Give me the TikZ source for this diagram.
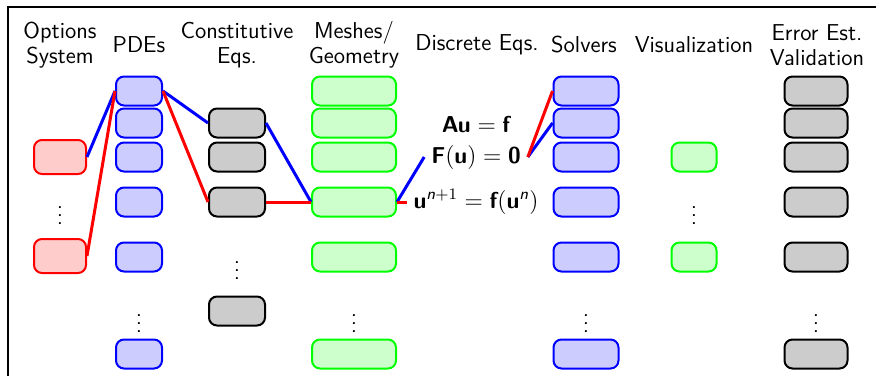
\documentclass[tikz,border=0pt]{standalone}
\usepackage{amsmath}
\usepackage{amssymb}
\usepackage{tikz}
\usepackage{xcolor}

\newcommand{\bsf}[1]{\textsf{\bfseries #1}}

\tikzset{
    cell/.style={rounded corners=4pt, line width=1pt, minimum height=14.5pt, inner sep=0pt},
    bluecell/.style={cell, draw=blue, fill=blue!20},
    redcell/.style={cell, draw=red, fill=red!20, minimum height=17pt, minimum width=26pt},
    greencell/.style={cell, draw=green, fill=green!20},
    graycell/.style={cell, draw=black, fill=gray!40},
    bluelink/.style={draw=blue, line width=1.5pt},
    redlink/.style={draw=red, line width=1.5pt},
    header/.style={align=center},
    dots/.style={inner sep=0pt}
}

\begin{document}
\begin{tikzpicture}[x=0.5pt, y=-0.5pt, every node/.style={font=\sffamily\fontsize{11.5}{12.5}\selectfont}]
        \useasboundingbox (0,0) rectangle (876,376);
        \draw[line width=0.8pt] (8,376) -- (8,7) -- (876,7);

        % headers
        \node[header] (hopt) at (60,45) {Options\\System};
        \node[header] (hpde) at (139,45) {PDEs};
        \node[header] (hcon) at (237,45) {Constitutive\\Eqs.};
        \node[header] (hmsh) at (354,45) {Meshes/\\Geometry};
        \node[header] (hdis) at (477,45) {Discrete Eqs.};
        \node[header] (hsol) at (584,45) {Solvers};
        \node[header] (hvis) at (694,45) {Visualization};
        \node[header] (herr) at (817,45) {Error Est.\\Validation};

        % options
        \node[redcell] (opt1) at (60,157) {};
        \node[dots] (optdots) at (60,210) {$\vdots$};
        \node[redcell] (opt2) at (60,256) {};

        % PDEs
        \node[bluecell, minimum width=23pt] (pde1) at (139,91) {};
        \node[bluecell, minimum width=23pt] (pde2) at (139,123) {};
        \node[bluecell, minimum width=23pt] (pde3) at (139,157) {};
        \node[bluecell, minimum width=23pt] (pde4) at (139,202) {};
        \node[bluecell, minimum width=23pt] (pde5) at (139,257) {};
        \node[dots] (pdedots) at (139,318) {$\vdots$};
        \node[bluecell, minimum width=23pt] (pde6) at (139,354) {};

        % constitutive eqs
        \node[graycell, minimum width=28pt] (con1) at (237,123) {};
        \node[graycell, minimum width=28pt] (con2) at (237,157) {};
        \node[graycell, minimum width=28pt] (con3) at (237,202) {};
        \node[dots] (condots) at (237,265) {$\vdots$};
        \node[graycell, minimum width=28pt] (con4) at (237,311) {};

        % meshes
        \node[greencell, minimum width=42pt] (msh1) at (354,91) {};
        \node[greencell, minimum width=42pt] (msh2) at (354,123) {};
        \node[greencell, minimum width=42pt] (msh3) at (354,157) {};
        \node[greencell, minimum width=42pt] (msh4) at (354,202) {};
        \node[greencell, minimum width=42pt] (msh5) at (354,257) {};
        \node[dots] (mshdots) at (354,318) {$\vdots$};
        \node[greencell, minimum width=42pt] (msh6) at (354,354) {};

        % discrete eqs
        \node (dislin) at (476,125) {$\bsf{Au}=\bsf{f}$};
        \node (disnon) at (476,157) {$\bsf{F}(\bsf{u})=\bsf{0}$};
        \node (disfix) at (476,202) {$\bsf{u}^{\textsf{\itshape n}+1}=\bsf{f}(\bsf{u}^{\textsf{\itshape n}})$};

        % solvers
        \node[bluecell, minimum width=32.5pt] (sol1) at (586,91) {};
        \node[bluecell, minimum width=32.5pt] (sol2) at (586,123) {};
        \node[bluecell, minimum width=32.5pt] (sol3) at (586,157) {};
        \node[bluecell, minimum width=32.5pt] (sol4) at (586,202) {};
        \node[bluecell, minimum width=32.5pt] (sol5) at (586,257) {};
        \node[dots] (soldots) at (586,318) {$\vdots$};
        \node[bluecell, minimum width=32.5pt] (sol6) at (586,354) {};

        % visualization
        \node[greencell, minimum width=22.5pt] (vis1) at (694,157) {};
        \node[dots] (visdots) at (694,210) {$\vdots$};
        \node[greencell, minimum width=22.5pt] (vis2) at (694,257) {};

        % error estimation
        \node[graycell, minimum width=31.5pt] (err1) at (816,91) {};
        \node[graycell, minimum width=31.5pt] (err2) at (816,123) {};
        \node[graycell, minimum width=31.5pt] (err3) at (816,157) {};
        \node[graycell, minimum width=31.5pt] (err4) at (816,202) {};
        \node[graycell, minimum width=31.5pt] (err5) at (816,257) {};
        \node[dots] (errdots) at (816,318) {$\vdots$};
        \node[graycell, minimum width=31.5pt] (err6) at (816,354) {};

        % blue path
        \draw[bluelink] (opt1.east) -- (pde1.west);
        \draw[bluelink] (pde1.east) -- (con1.west);
        \draw[bluelink] (con1.east) -- (msh4.west);
        \draw[bluelink] (msh4.east) -- (disnon.west);
        \draw[bluelink] (disnon.east) -- (sol2.west);

        % red path
        \draw[redlink] (opt2.east) -- (pde1.west);
        \draw[redlink] (pde1.east) -- (con3.west);
        \draw[redlink] (con3.east) -- (msh4.west);
        \draw[redlink] (msh4.east) -- (disfix.west);
        \draw[redlink] (disnon.east) -- (sol1.west);
    \end{tikzpicture}
\end{document}
